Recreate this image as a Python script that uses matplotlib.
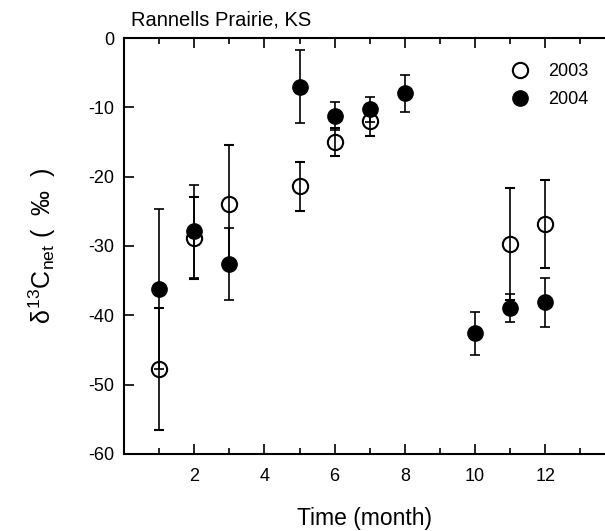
import matplotlib
matplotlib.use("Agg")
import matplotlib.pyplot as plt
from matplotlib.ticker import MultipleLocator

plt.rcParams['font.family'] = ['Liberation Sans', 'DejaVu Sans']
plt.rcParams['mathtext.fontset'] = 'custom'
plt.rcParams['mathtext.rm'] = 'Liberation Sans'
plt.rcParams['mathtext.it'] = 'Liberation Sans'
plt.rcParams['axes.unicode_minus'] = False

months_2003 = [1, 2, 3, 5, 6, 7, 11, 12]
vals_2003 = [-47.8, -28.9, -24.0, -21.4, -15.0, -12.0, -29.7, -26.8]
errs_2003 = [8.8, 5.9, 8.5, 3.5, 2.0, 2.2, 8.1, 6.35]

months_2004 = [1, 2, 3, 5, 6, 7, 8, 10, 11, 12]
vals_2004 = [-36.2, -27.9, -32.6, -7.0, -11.3, -10.3, -8.0, -42.6, -38.9, -38.1]
errs_2004 = [11.5, 6.7, 5.2, 5.3, 2.0, 1.8, 2.7, 3.05, 2.0, 3.55]

x_ticks = [2, 4, 6, 8, 10, 12]

fig = plt.figure(figsize=(6.05, 5.31), dpi=100)
ax = fig.add_axes([124/605, 77/531, 481/605, 416/531])

eb1 = ax.errorbar(months_2003, vals_2003, yerr=errs_2003, fmt='o', mfc='none', mec='black',
                  mew=1.5, ms=11, ecolor='black', elinewidth=1.2, capsize=3.5, capthick=1.2,
                  zorder=2)
eb2 = ax.errorbar(months_2004, vals_2004, yerr=errs_2004, fmt='o', mfc='black', mec='black',
                  ms=11, ecolor='black', elinewidth=1.2, capsize=3.5, capthick=1.2,
                  zorder=3)

ax.set_xlim(0, 13.7)
ax.set_ylim(-60, 0)
ax.set_xticks(x_ticks)
ax.xaxis.set_minor_locator(MultipleLocator(1))
ax.yaxis.set_major_locator(MultipleLocator(10))
ax.tick_params(axis='both', which='major', direction='in', length=7, width=1.2,
               labelsize=13, pad=7, top=True)
ax.tick_params(axis='x', which='major', pad=10)
ax.tick_params(axis='x', which='minor', direction='in', length=4, width=1.2, top=True)
for s in ['left', 'bottom', 'top']:
    ax.spines[s].set_linewidth(1.5)
ax.spines['right'].set_visible(False)

ax.set_xlabel('Time (month)', fontsize=16.5, labelpad=16)
ax.set_ylabel(r'$\delta^{13}$C$_{\mathrm{net}}$ (  ‰  )', fontsize=18, labelpad=22)
ax.text(0.015, 1.02, 'Rannells Prairie, KS', transform=ax.transAxes, fontsize=14.5,
        ha='left', va='bottom')

ax.legend(handles=[eb1[0], eb2[0]], labels=['2003', '2004'], loc='upper right',
          frameon=False, fontsize=13, handletextpad=1.0, handlelength=1.2,
          bbox_to_anchor=(1.0, 0.978), labelspacing=0.6)

fig.savefig('out.png', dpi=100)
